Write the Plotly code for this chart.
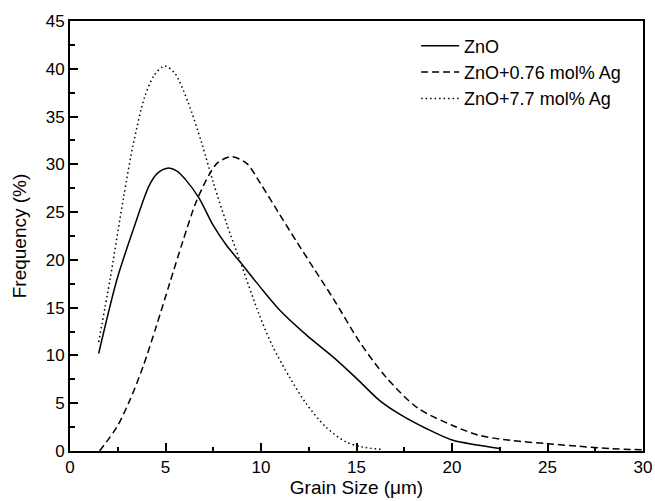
import plotly.graph_objects as go

# Grain size (µm) and frequency (%)
zno_x = [1.5, 2.45, 3.3, 4.15, 4.6, 5.1, 5.6, 6.05, 6.75, 7.5, 8.2, 8.9, 9.94, 11.0, 12.4, 13.8, 15.0, 16.2, 17.3, 18.7, 20.0, 21.4, 22.5]
zno_y = [10.2, 17.9, 23.1, 27.8, 29.1, 29.6, 29.3, 28.4, 26.5, 23.6, 21.5, 19.8, 17.2, 14.7, 12.1, 9.8, 7.6, 5.3, 3.8, 2.3, 1.15, 0.6, 0.25]

ag076_x = [1.55, 2.45, 3.13, 3.82, 4.51, 5.21, 5.9, 6.59, 7.28, 7.75, 8.46, 9.25, 9.94, 10.9, 11.9, 12.8, 13.8,
           15.2, 16.6, 18.2, 20.0, 21.4, 23.1, 25.0, 26.6, 28.3, 30.0]
ag076_y = [0.0, 2.5, 5.3, 8.8, 13.0, 17.5, 21.9, 26.0, 28.9, 30.2, 30.8, 30.1, 28.1, 25.0, 21.8, 19.0, 15.9,
           11.3, 7.6, 4.5, 2.7, 1.65, 1.1, 0.77, 0.5, 0.25, 0.12]

ag77_x = [1.5, 2.1, 2.8, 3.3, 3.9, 4.4, 4.95, 5.5, 6.2, 6.9, 7.5, 8.2, 8.9, 9.9, 10.6, 11.5, 12.35, 13.4, 14.45, 15.3, 16.4]
ag77_y = [11.4, 18.0, 26.5, 32.0, 37.0, 39.3, 40.3, 39.5, 36.4, 32.2, 28.1, 23.8, 19.9, 14.3, 11.0, 7.7, 5.0, 2.5, 0.94, 0.42, 0.15]

names = ["ZnO", "ZnO+0.76 mol% Ag", "ZnO+7.7 mol% Ag"]
x_ticks = [0, 5, 10, 15, 20, 25, 30]
y_ticks = [0, 5, 10, 15, 20, 25, 30, 35, 40, 45]

FONT = "Liberation Sans, Arial, sans-serif"

fig = go.Figure()
fig.add_trace(go.Scatter(x=zno_x, y=zno_y, mode="lines", name=names[0],
                         line=dict(color="black", width=1.5, shape="spline", smoothing=0.8)))
fig.add_trace(go.Scatter(x=ag076_x, y=ag076_y, mode="lines", name=names[1],
                         line=dict(color="black", width=1.5, dash="7px,4px", shape="spline", smoothing=0.8)))
fig.add_trace(go.Scatter(x=ag77_x, y=ag77_y, mode="lines", name=names[2],
                         line=dict(color="black", width=1.5, dash="1.5px,3px", shape="spline", smoothing=0.8)))

axis_common = dict(
    showgrid=False, zeroline=False, showline=True, linecolor="black", linewidth=2,
    mirror=True, ticks="inside", ticklen=8, tickwidth=1.5, tickcolor="black",
    automargin=False,
    tickfont=dict(family=FONT, size=17, color="black"),
)

fig.update_xaxes(range=[0, 30], tickvals=x_ticks, ticktext=[str(v) for v in x_ticks],
                 minor=dict(dtick=2.5, ticks="inside", ticklen=4.5, tickwidth=1.5, tickcolor="black"),
                 title=dict(text="Grain Size (\u03bcm)", standoff=4,
                            font=dict(family=FONT, size=19, color="black")),
                 **axis_common)
fig.update_yaxes(range=[0, 45], tickvals=y_ticks, ticktext=[str(v) for v in y_ticks],
                 minor=dict(dtick=2.5, ticks="inside", ticklen=4.5, tickwidth=1.5, tickcolor="black"),
                 title=dict(text="Frequency (%)", standoff=14,
                            font=dict(family=FONT, size=19, color="black")),
                 **axis_common)

fig.update_layout(
    width=655, height=501,
    margin=dict(l=70, r=12, t=21, b=50),
    paper_bgcolor="white", plot_bgcolor="white",
    legend=dict(x=0.604, y=0.985, xanchor="left", yanchor="top",
                bgcolor="rgba(0,0,0,0)", borderwidth=0,
                font=dict(family=FONT, size=18, color="black"),
                tracegroupgap=0, itemwidth=38),
    showlegend=True,
)

fig.write_html("out.html",
               config={"displayModeBar": False},
               post_script="document.body.style.margin='0';document.body.style.overflow='hidden';")
